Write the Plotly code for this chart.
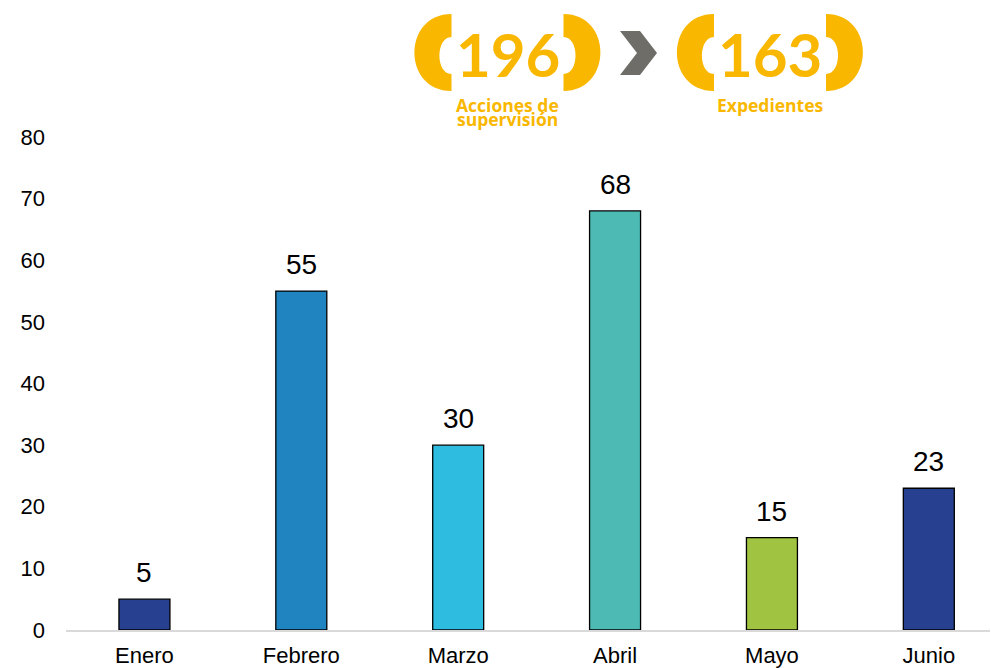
import plotly.graph_objects as go

months = ["Enero", "Febrero", "Marzo", "Abril", "Mayo", "Junio"]
values = [5, 55, 30, 68, 15, 23]
bar_colors = ["#27408F", "#1F84C0", "#2EBCE1", "#4DBBB4", "#A0C341", "#27408F"]
y_ticks = [0, 10, 20, 30, 40, 50, 60, 70, 80]

header_numbers = ["196", "163"]
header_labels = [["Acciones de", "supervisión"], ["Expedientes"]]

W, H = 991, 668
ML, MR, MT, MB = 66, 1, 137, 38
PW, PH = W - ML - MR, H - MT - MB
YELLOW = "#F9B700"


def px(x):
    return (x - ML) / PW


def py(y):
    return (H - MB - y) / PH


def pt(x, y):
    return f"{px(x):.5f},{py(y):.5f}"


fig = go.Figure()
fig.add_trace(go.Bar(
    x=months, y=values,
    marker=dict(color=bar_colors, line=dict(color="#000000", width=1.3)),
    width=0.325,
    hoverinfo="skip",
))

shapes = []


def bracket(cx, top=14, bot=91, half=93, cut=56, inner_top=37, inner_bot=74, inner_depth=12):
    for sgn in (-1, 1):
        xo = cx + sgn * half
        xc = cx + sgn * cut
        ctrl = (xo - xc) / 0.75
        ictrl = sgn * inner_depth / 0.75
        p = (f"M {pt(xc, top)} "
             f"C {pt(xc + ctrl, top)} {pt(xc + ctrl, bot)} {pt(xc, bot)} "
             f"L {pt(xc, inner_bot)} "
             f"C {pt(xc + ictrl, inner_bot)} {pt(xc + ictrl, inner_top)} {pt(xc, inner_top)} Z")
        shapes.append(dict(type="path", path=p, xref="paper", yref="paper",
                           fillcolor=YELLOW, line=dict(width=0), layer="above"))


centers = [507.5, 770]
for c in centers:
    bracket(c)

# chevron
chev_pts = [(620, 31), (640, 31), (657, 53), (640, 75), (620, 75), (637, 53)]
chev = "M " + pt(*chev_pts[0]) + " " + " ".join("L " + pt(*q) for q in chev_pts[1:]) + " Z"
shapes.append(dict(type="path", path=chev, xref="paper", yref="paper",
                   fillcolor="#6E6D68", line=dict(width=0), layer="above"))

annotations = []
for c, num, labs in zip(centers, header_numbers, header_labels):
    annotations.append(dict(
        x=px(c), y=py(54), xref="paper", yref="paper", text=num, showarrow=False,
        font=dict(family="Lato", size=60, color=YELLOW, weight="bold"),
        xanchor="center", yanchor="middle",
    ))
    for i, lab in enumerate(labs):
        annotations.append(dict(
            x=px(c), y=py(105 + 14 * i), xref="paper", yref="paper", text=lab, showarrow=False,
            font=dict(family="Open Sans", size=17.5, color=YELLOW, weight="bold"),
            xanchor="center", yanchor="middle", borderpad=0,
        ))

# data labels
for m, v in zip(months, values):
    annotations.append(dict(
        x=m, y=v, xref="x", yref="y", text=str(v), showarrow=False,
        font=dict(family="Liberation Sans, Arial", size=28, color="#000000"),
        xanchor="center", yanchor="bottom", yshift=9,
    ))

fig.update_layout(
    width=W, height=H,
    margin=dict(l=ML, r=MR, t=MT, b=MB, pad=0),
    paper_bgcolor="white", plot_bgcolor="white",
    showlegend=False,
    shapes=shapes,
    annotations=annotations,
    xaxis=dict(
        range=[-0.5, 5.39], showgrid=False, zeroline=False,
        showline=True, linecolor="#D9D9D9", linewidth=1.5,
        ticks="", tickfont=dict(family="Liberation Sans, Arial", size=22, color="#000000"),
        ticklabelstandoff=5,
    ),
    yaxis=dict(
        range=[0, 80], tickvals=y_ticks, showgrid=False, zeroline=False,
        showline=False, ticks="",
        tickfont=dict(family="Liberation Sans, Arial", size=22, color="#000000"),
        ticklabelstandoff=20,
    ),
)

fig.write_html("out.html", config={"displayModeBar": False},
               post_script="document.body.style.margin='0px';")
